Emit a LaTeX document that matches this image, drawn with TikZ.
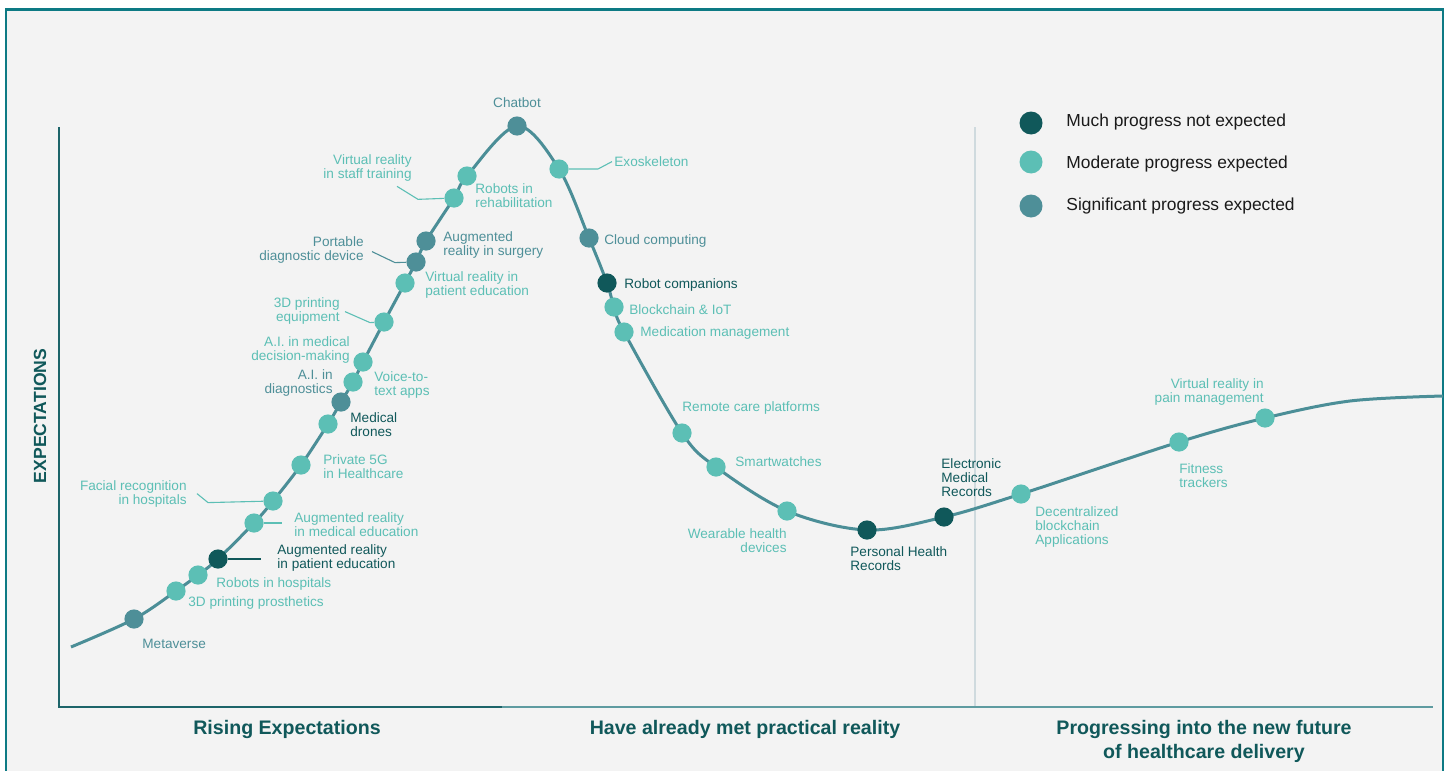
\documentclass[tikz,border=0pt]{standalone}
\usepackage{fontspec}
\setmainfont{Liberation Sans}
\usepackage{xcolor}
\usetikzlibrary{backgrounds}

\definecolor{muchc}{HTML}{10585A}
\definecolor{modc}{HTML}{5CBFB5}
\definecolor{sigc}{HTML}{4E8F98}
\definecolor{curvec}{HTML}{4B8E97}
\definecolor{framec}{HTML}{0D7A84}
\definecolor{panelc}{HTML}{F3F3F3}
\definecolor{axisc}{HTML}{1C6469}
\definecolor{axislight}{HTML}{5E9BA0}
\definecolor{sepc}{HTML}{CFDADE}
\definecolor{legtext}{HTML}{1A1A1A}

\tikzset{
    dot/.style={circle,inner sep=0pt,minimum size=9.6pt},
    much/.style={dot,fill=muchc},
    moderate/.style={dot,fill=modc},
    significant/.style={dot,fill=sigc},
    tag/.style={inner sep=0pt,yshift=-0.8pt,font=\fontsize{6.8}{7}\selectfont},
    tmuch/.style={tag,text=muchc},
    tmod/.style={tag,text=modc},
    tsig/.style={tag,text=sigc},
    lead/.style={line width=0.55pt},
    legtag/.style={inner sep=0pt,anchor=west,yshift=-0.9pt,text=legtext,font=\fontsize{8.7}{10}\selectfont},
    phase/.style={inner sep=0pt,text=muchc,align=center,font=\fontsize{9.8}{12}\selectfont\bfseries},
}

\begin{document}
\begin{tikzpicture}[x=0.5pt,y=-0.5pt]
    \useasboundingbox (0,0) rectangle (1451,771);

    % dots on the curve
    \coordinate (start) at (71,647);
    \node[significant] (meta) at (134,619) {};
    \node[moderate] (pros) at (176,591) {};
    \node[moderate] (robhosp) at (198,575) {};
    \node[much] (arpat) at (218,559) {};
    \node[moderate] (armed) at (254,523) {};
    \node[moderate] (face) at (273,501) {};
    \node[moderate] (fiveg) at (301,465) {};
    \node[moderate] (drones) at (328,424) {};
    \node[significant] (aidiag) at (341,402) {};
    \node[moderate] (voice) at (353,382) {};
    \node[moderate] (aidec) at (363,362) {};
    \node[moderate] (print) at (384,322) {};
    \node[moderate] (vrpat) at (405,283) {};
    \node[significant] (portable) at (416,262) {};
    \node[significant] (arsurg) at (426,241) {};
    \node[moderate] (vrstaff) at (454,198) {};
    \node[moderate] (robrehab) at (467,176) {};
    \node[significant] (chatbot) at (517,126) {};
    \node[moderate] (exo) at (559,169) {};
    \node[significant] (cloud) at (589,238) {};
    \node[much] (robcomp) at (607,283) {};
    \node[moderate] (chain) at (614,307) {};
    \node[moderate] (medic) at (624,332) {};
    \node[moderate] (remote) at (682,433) {};
    \node[moderate] (watch) at (716,467) {};
    \node[moderate] (wear) at (787,511) {};
    \node[much] (phr) at (867,530) {};
    \node[much] (emr) at (944,517) {};
    \node[moderate] (decent) at (1021,494) {};
    \node[moderate] (fitness) at (1179,442) {};
    \node[moderate] (vrpain) at (1265,418) {};
    \coordinate (flat) at (1350,401);
    \coordinate (finish) at (1443,396);

    % labels
    \node[tsig,anchor=west] (metatxt) at (142,642) {Metaverse};
    \node[tmod,anchor=west] (prostxt) at (188,601) {3D printing prosthetics};
    \node[tmod,anchor=west] (robhosptxt) at (216,582) {Robots in hospitals};
    \node[tmuch,anchor=west,align=left] (arpattxt) at (277,556) {Augmented reality\\in patient education};
    \node[tmod,anchor=west,align=left] (armedtxt) at (294,523) {Augmented reality\\in medical education};
    \node[tmod,anchor=east,align=right] (facetxt) at (187,492) {Facial recognition\\in hospitals};
    \node[tmod,anchor=west,align=left] (fivegtxt) at (323,465) {Private 5G\\in Healthcare};
    \node[tmuch,anchor=west,align=left] (dronestxt) at (350,423) {Medical\\drones};
    \node[tsig,anchor=east,align=right] (aidiagtxt) at (333,381) {A.I. in\\diagnostics};
    \node[tmod,anchor=west,align=left] (voicetxt) at (374,383) {Voice-to-\\text apps};
    \node[tmod,anchor=east,align=right] (aidectxt) at (350,348) {A.I. in medical\\decision-making};
    \node[tmod,anchor=east,align=right] (printtxt) at (340,309) {3D printing\\equipment};
    \node[tmod,anchor=west,align=left] (vrpattxt) at (425,283) {Virtual reality in\\patient education};
    \node[tsig,anchor=east,align=right] (portabletxt) at (364,248) {Portable\\diagnostic device};
    \node[tsig,anchor=west,align=left] (arsurgtxt) at (443,243) {Augmented\\reality in surgery};
    \node[tmod,anchor=east,align=right] (vrstafftxt) at (412,166) {Virtual reality\\in staff training};
    \node[tmod,anchor=west,align=left] (robrehabtxt) at (475,194) {Robots in\\rehabilitation};
    \node[tsig] (chatbottxt) at (517,101) {Chatbot};
    \node[tmod,anchor=west] (exotxt) at (614,160) {Exoskeleton};
    \node[tsig,anchor=west] (cloudtxt) at (604,239) {Cloud computing};
    \node[tmuch,anchor=west] (robcomptxt) at (624,283) {Robot companions};
    \node[tmod,anchor=west] (chaintxt) at (629,308) {Blockchain \& IoT};
    \node[tmod,anchor=west] (medictxt) at (640,331) {Medication management};
    \node[tmod,anchor=west] (remotetxt) at (682,406) {Remote care platforms};
    \node[tmod,anchor=west] (watchtxt) at (735,460) {Smartwatches};
    \node[tmod,anchor=east,align=right] (weartxt) at (787,539) {Wearable health\\devices};
    \node[tmuch,anchor=west,align=left] (phrtxt) at (850,557) {Personal Health\\Records};
    \node[tmuch,anchor=west,align=left] (emrtxt) at (941,476) {Electronic\\Medical\\Records};
    \node[tmod,anchor=west,align=left] (decenttxt) at (1035,525) {Decentralized\\blockchain\\Applications};
    \node[tmod,anchor=west,align=left] (fitnesstxt) at (1179,474) {Fitness\\trackers};
    \node[tmod,anchor=east,align=right] (vrpaintxt) at (1264,390) {Virtual reality in\\pain management};

    % legend
    \node[much,minimum size=11.5pt] (keymuch) at (1031,123) {};
    \node[moderate,minimum size=11.5pt] (keymod) at (1031,162) {};
    \node[significant,minimum size=11.5pt] (keysig) at (1031,206) {};
    \node[legtag] (keymuchtxt) at (1066,120) {Much progress not expected};
    \node[legtag] (keymodtxt) at (1066,162) {Moderate progress expected};
    \node[legtag] (keysigtxt) at (1066,204) {Significant progress expected};

    % axis and phase names
    \node[phase,rotate=90] (ylab) at (40,416) {\fontsize{8.8}{10}\selectfont EXPECTATIONS};
    \node[phase] (rising) at (287,729) {Rising Expectations};
    \node[phase] (met) at (745,729) {Have already met practical reality};
    \node[phase] (future) at (1204,741) {Progressing into the new future\\of healthcare delivery};

    \begin{pgfonlayer}{background}
        \fill[white] (0,0) rectangle (1451,771);
        \fill[panelc] (6,9.5) rectangle (1443,771);
        \draw[framec,line width=1.3pt] (6,771) -- (6,9.5) -- (1443,9.5) -- (1443,771);

        \coordinate (ytop) at (59,127);
        \coordinate (origin) at (59,707);
        \coordinate (xmid) at (502,707);
        \coordinate (xend) at (1433,707);
        \coordinate (septop) at (975,127);
        \coordinate (sepbot) at (975,707);
        \draw[sepc,line width=0.8pt] (septop) -- (sepbot);
        \draw[axisc,line width=0.8pt] (ytop) -- (origin) -- (xmid);
        \draw[axislight,line width=0.8pt] (xmid) -- (xend);

        \draw[curvec,line width=1.5pt] plot[smooth,tension=0.55] coordinates {
            (start) (meta.center) (pros.center) (robhosp.center) (arpat.center)
            (armed.center) (face.center) (fiveg.center) (drones.center)
            (aidiag.center) (voice.center) (aidec.center) (print.center)
            (vrpat.center) (portable.center) (arsurg.center) (vrstaff.center)
            (robrehab.center) (chatbot.center) (exo.center) (cloud.center)
            (robcomp.center) (chain.center) (medic.center) (remote.center)
            (watch.center) (wear.center) (phr.center) (emr.center)
            (decent.center) (fitness.center) (vrpain.center) (flat) (finish)};

        % leader lines
        \draw[lead,modc] ([shift={(-15,5)}]vrstafftxt.south east) -- ++(21,13) -- (vrstaff);
        \draw[lead,sigc] ([shift={(8,2)}]portabletxt.east) -- ++(23,11) -- (portable);
        \draw[lead,modc] ([shift={(5,1)}]printtxt.east) -- ++(25,11) -- (print);
        \draw[lead,modc] ([xshift=5]facetxt.east) -- ++(11,9) -- (face);
        \draw[lead,modc] (armed) -- ([xshift=-6]armedtxt.west |- armed);
        \draw[lead,muchc] (arpat) -- ([xshift=-8]arpattxt.west |- arpat);
        \draw[lead,modc] (exo) -- ++(39,0) -- ([xshift=-1]exotxt.west);
    \end{pgfonlayer}
\end{tikzpicture}
\end{document}
